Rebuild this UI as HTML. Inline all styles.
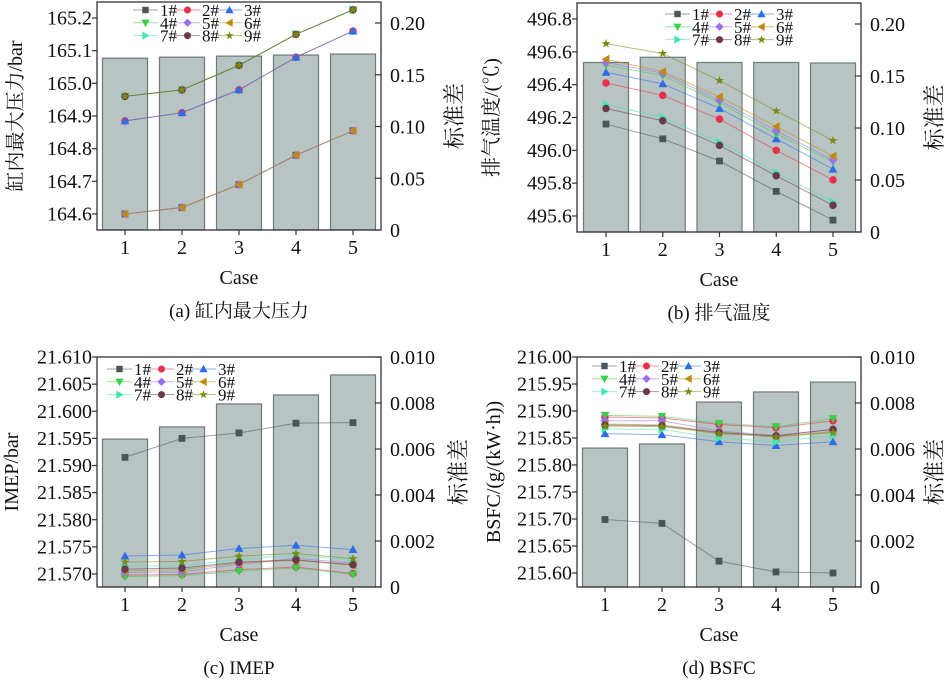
<!DOCTYPE html>
<html><head><meta charset="utf-8">
<style>
html,body{margin:0;padding:0;background:#fff;}
svg{display:block;}
svg text{font-family:'Liberation Serif','Times New Roman',Times,'Noto Serif CJK SC',serif;}
</style></head>
<body>
<svg id="chart" width="945" height="682" viewBox="0 0 945 682" xmlns="http://www.w3.org/2000/svg"></svg>
<script>
const cases = ["1","2","3","4","5"];
const seriesNames = ["1#","2#","3#","4#","5#","6#","7#","8#","9#"];
const seriesColors = ["#4a5459","#e8304a","#2a6ee8","#3cd04a","#9a70f0","#c08a10","#40e8b0","#6a3a4a","#7a8a10"];
const seriesMarkers = ["square","circle","up","down","diamond","left","right","circle","star"];

// Panel (a)
const aBars = [0.166,0.167,0.168,0.169,0.170];
const aSeries = [
 [164.6,164.62,164.69,164.78,164.855],
 [164.885,164.91,164.98,165.08,165.16],
 [164.885,164.91,164.98,165.08,165.16],
 [164.96,164.98,165.055,165.15,165.225],
 [164.6,164.62,164.69,164.78,164.855],
 [164.6,164.62,164.69,164.78,164.855],
 [164.96,164.98,165.055,165.15,165.225],
 [164.96,164.98,165.055,165.15,165.225],
 [164.96,164.98,165.055,165.15,165.225]];
const aLeftTicks = ["164.6","164.7","164.8","164.9","165.0","165.1","165.2"];
const aRightTicks = ["0","0.05","0.10","0.15","0.20"];

// Panel (b)
const bBars = [0.163,0.168,0.163,0.163,0.1625];
const bSeries = [
 [496.16,496.07,495.935,495.75,495.575],
 [496.41,496.335,496.19,496.0,495.82],
 [496.475,496.405,496.255,496.07,495.885],
 [496.52,496.455,496.29,496.1,495.93],
 [496.535,496.47,496.305,496.12,495.94],
 [496.555,496.48,496.325,496.145,495.965],
 [496.28,496.2,496.05,495.865,495.685],
 [496.255,496.18,496.03,495.845,495.665],
 [496.65,496.59,496.425,496.24,496.06]];
const bLeftTicks = ["495.6","495.8","496.0","496.2","496.4","496.6","496.8"];
const bRightTicks = ["0","0.05","0.10","0.15","0.20"];

// Panel (c)
const cBars = [0.00643,0.00696,0.00796,0.00835,0.00922];
const cSeries = [
 [21.5915,21.595,21.596,21.5978,21.5979],
 [21.5698,21.5699,21.5708,21.5713,21.5701],
 [21.5733,21.5735,21.5747,21.5753,21.5745],
 [21.5695,21.5697,21.5705,21.5711,21.5699],
 [21.5703,21.5704,21.5718,21.5729,21.5720],
 [21.5706,21.5708,21.5720,21.5725,21.5716],
 [21.5715,21.5715,21.5727,21.5735,21.5725],
 [21.5709,21.5711,21.5722,21.5726,21.5717],
 [21.5722,21.5723,21.5733,21.5738,21.5728]];
const cLeftTicks = ["21.570","21.575","21.580","21.585","21.590","21.595","21.600","21.605","21.610"];
const cRightTicks = ["0","0.002","0.004","0.006","0.008","0.010"];

// Panel (d)
const dBars = [0.00604,0.00622,0.00804,0.00848,0.00891];
const dSeries = [
 [215.699,215.692,215.622,215.602,215.600],
 [215.889,215.887,215.875,215.869,215.882],
 [215.858,215.856,215.843,215.836,215.843],
 [215.892,215.890,215.877,215.871,215.886],
 [215.882,215.882,215.863,215.855,215.866],
 [215.876,215.874,215.861,215.853,215.862],
 [215.867,215.866,215.850,215.843,215.855],
 [215.874,215.873,215.860,215.854,215.866],
 [215.872,215.871,215.858,215.852,215.860]];
const dLeftTicks = ["215.60","215.65","215.70","215.75","215.80","215.85","215.90","215.95","216.00"];
const dRightTicks = ["0","0.002","0.004","0.006","0.008","0.010"];

const NS="http://www.w3.org/2000/svg";
const svg=document.getElementById('chart');
function mk(tag,attrs,parent){const e=document.createElementNS(NS,tag);for(const k in attrs)e.setAttribute(k,attrs[k]);if(tag==='text')e.setAttribute('font-family',"'Liberation Serif','Times New Roman',Times,'Noto Serif CJK SC',serif");(parent||svg).appendChild(e);return e;}

function marker(g,type,x,y,c,s){
  let e;
  if(type==="square") e=mk('rect',{x:x-s,y:y-s,width:2*s,height:2*s,fill:c},g);
  else if(type==="circle") e=mk('circle',{cx:x,cy:y,r:s*1.1,fill:c},g);
  else if(type==="diamond") e=mk('polygon',{points:`${x},${y-s*1.3} ${x+s*1.3},${y} ${x},${y+s*1.3} ${x-s*1.3},${y}`,fill:c},g);
  else if(type==="up") e=mk('polygon',{points:`${x},${y-s*1.3} ${x+s*1.3},${y+s} ${x-s*1.3},${y+s}`,fill:c},g);
  else if(type==="down") e=mk('polygon',{points:`${x},${y+s*1.3} ${x+s*1.3},${y-s} ${x-s*1.3},${y-s}`,fill:c},g);
  else if(type==="left") e=mk('polygon',{points:`${x-s*1.3},${y} ${x+s},${y-s*1.3} ${x+s},${y+s*1.3}`,fill:c},g);
  else if(type==="right") e=mk('polygon',{points:`${x+s*1.3},${y} ${x-s},${y-s*1.3} ${x-s},${y+s*1.3}`,fill:c},g);
  else { let p=[];for(let i=0;i<10;i++){const r=i%2?s*0.55:s*1.4;const a=-Math.PI/2+i*Math.PI/5;p.push((x+r*Math.cos(a)).toFixed(1)+","+(y+r*Math.sin(a)).toFixed(1));} e=mk('polygon',{points:p.join(' '),fill:c},g);}
  
  
}

function panel(o){
  const g=mk('g',{});
  
  
  const L=o.x0,R=o.x1,T=o.top,B=o.bottom;
  const xs=i=>o.cx1+(o.cx5-o.cx1)*i/4;
  const yl=v=>o.ly0+(v-o.lv0)*(o.ly1-o.ly0)/(o.lv1-o.lv0);
  const yr=v=>B+(v/o.rvmax)*(o.ry1-B);
  o.bars.forEach((v,i)=>{
    const r=mk('rect',{x:xs(i)-22.5,y:yr(v),width:45,height:B-yr(v),fill:"#b8c4c4",stroke:"#707878","stroke-width":1.2},g);
    
    
  });
  o.series.forEach((s,k)=>{
    const sg=mk('g',{},g);
    
    
    mk('polyline',{points:s.map((v,i)=>xs(i)+","+yl(v)).join(' '),fill:"none",stroke:seriesColors[k],"stroke-opacity":0.55,"stroke-width":1},sg);
    s.forEach((v,i)=>marker(sg,seriesMarkers[k],xs(i),yl(v),seriesColors[k],3.4));
  });
  mk('rect',{x:L,y:T,width:R-L,height:B-T,fill:"none",stroke:"#333","stroke-width":1.3},g);
  o.lticks.forEach((t,i)=>{
    const v=parseFloat(t),y=yl(v);
    mk('line',{x1:L-5,x2:L,y1:y,y2:y,stroke:"#333","stroke-width":1.2},g);
    const tx=mk('text',{x:L-5,y:y+6.5,"text-anchor":"end","font-size":20,fill:"#111"},g);tx.textContent=t;
    
    
  });
  o.rticks.forEach((t,i)=>{
    const v=parseFloat(t),y=yr(v);
    mk('line',{x1:R-6,x2:R,y1:y,y2:y,stroke:"#333","stroke-width":1.2},g);
    const tx=mk('text',{x:R+9,y:y+7,"text-anchor":"start","font-size":20,fill:"#111"},g);tx.textContent=t;
    
    
  });
  cases.forEach((c,i)=>{
    mk('line',{x1:xs(i),x2:xs(i),y1:B,y2:B+5,stroke:"#333","stroke-width":1.2},g);
    const tx=mk('text',{x:xs(i),y:B+24,"text-anchor":"middle","font-size":20,fill:"#111"},g);tx.textContent=c;
    
    
  });
  const cx=(L+R)/2;
  let t=mk('text',{x:cx,y:B+54,"text-anchor":"middle","font-size":20,fill:"#111"},g);t.textContent="Case";
  
  
  t=mk('text',{x:cx,y:B+87,"text-anchor":"middle","font-size":19,fill:"#111"},g);t.textContent=o.caption;
  
  
  t=mk('text',{x:o.ltx,y:(T+B)/2,"text-anchor":"middle","font-size":20,fill:"#111",transform:`rotate(-90 ${o.ltx} ${(T+B)/2})`},g);t.textContent=o.ltitle;
  
  
  t=mk('text',{x:o.rtx,y:(T+B)/2,"text-anchor":"middle","font-size":22,fill:"#111",transform:`rotate(-90 ${o.rtx} ${(T+B)/2})`},g);t.textContent="标准差";
  
  
  const lg=mk('g',{},g);
  
  
  seriesNames.forEach((n,k)=>{
    const col=k%3,row=Math.floor(k/3);
    const lx=o.legx+col*42,ly=o.legy+row*12.8;
    const eg=mk('g',{},lg);
    
    
    mk('line',{x1:lx,x2:lx+25,y1:ly,y2:ly,stroke:seriesColors[k],"stroke-opacity":0.55,"stroke-width":1},eg);
    marker(eg,seriesMarkers[k],lx+12.5,ly,seriesColors[k],3.2);
    const tx=mk('text',{x:lx+27,y:ly+6,"font-size":17,fill:"#111"},eg);tx.textContent=n;
  });
}

panel({name:"panel-a-max-pressure",x0:97,x1:381,top:2,bottom:230,cx1:125,cx5:353,lv0:164.6,lv1:165.2,ly0:214,ly1:18,rvmax:0.2,ry1:23,bars:aBars,series:aSeries,lticks:aLeftTicks,rticks:aRightTicks,caption:"(a) 缸内最大压力",ltitle:"缸内最大压力/bar",ltx:22,rtx:462,legx:133,legy:10});
panel({name:"panel-b-exhaust-temp",x0:577,x1:861,top:3,bottom:232,cx1:606,cx5:833,lv0:495.6,lv1:496.8,ly0:216,ly1:19,rvmax:0.2,ry1:24,bars:bBars,series:bSeries,lticks:bLeftTicks,rticks:bRightTicks,caption:"(b) 排气温度",ltitle:"排气温度/(℃)",ltx:498,rtx:942,legx:665,legy:14});
panel({name:"panel-c-imep",x0:97,x1:381,top:357,bottom:587,cx1:125,cx5:353,lv0:21.570,lv1:21.610,ly0:574,ly1:357,rvmax:0.010,ry1:357,bars:cBars,series:cSeries,lticks:cLeftTicks,rticks:cRightTicks,caption:"(c) IMEP",ltitle:"IMEP/bar",ltx:18,rtx:466,legx:107,legy:369});
panel({name:"panel-d-bsfc",x0:577,x1:861,top:357,bottom:587,cx1:605,cx5:833,lv0:215.60,lv1:216.00,ly0:573,ly1:357,rvmax:0.010,ry1:357,bars:dBars,series:dSeries,lticks:dLeftTicks,rticks:dRightTicks,caption:"(d) BSFC",ltitle:"BSFC/(g/(kW·h))",ltx:500,rtx:942,legx:592,legy:366});
</script>
</body></html>
